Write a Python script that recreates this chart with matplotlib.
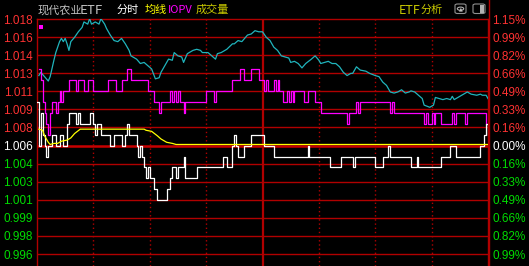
import matplotlib
matplotlib.use('Agg')
import matplotlib.pyplot as plt
from matplotlib.patches import Rectangle, FancyBboxPatch, Circle
from matplotlib.lines import Line2D

# previous close and the grid step (percent per grid line)
prev_close = 1.006
step_pct = 1.15 / 7
grid_steps = list(range(7, -7, -1))   # +7 ... -6

# price (white), minute -> price, drawn as steps
price_t = [0, 1, 2, 3, 4, 5, 6, 8, 10, 12, 14, 16, 17, 21, 22, 23, 28, 30, 31, 32,
           34, 39, 41, 45, 47, 48, 49, 53, 54, 55, 56, 57, 58, 59, 60, 62, 64, 69, 71, 72,
           74, 75, 78, 79, 85, 99, 101, 104, 105, 106, 107, 110, 114, 121, 126, 144, 145, 156, 162, 168,
           169, 180, 184, 187, 188, 199, 202, 203, 215, 220, 223, 236, 238, 239, 240]
price_v = [1.010, 1.006, 1.009, 1.007, 1.006, 1.005, 1.006, 1.007, 1.006, 1.007, 1.006, 1.008, 1.009, 1.008, 1.009, 1.008, 1.009, 1.008, 1.007, 1.008,
           1.007, 1.006, 1.007, 1.006, 1.007, 1.008, 1.007, 1.006, 1.005, 1.006, 1.005, 1.004, 1.003, 1.004, 1.003, 1.002, 1.001, 1.002, 1.003, 1.004,
           1.003, 1.004, 1.005, 1.003, 1.004, 1.005, 1.004, 1.006, 1.007, 1.006, 1.005, 1.006, 1.007, 1.006, 1.005, 1.006, 1.005, 1.004, 1.005, 1.004,
           1.005, 1.004, 1.005, 1.006, 1.005, 1.004, 1.005, 1.004, 1.005, 1.006, 1.005, 1.006, 1.007, 1.008, 1.007]

# average price (yellow)
avg_t = [1, 3, 4, 6, 7, 9, 11, 13, 16, 18, 20, 23, 57, 58, 61, 64, 66, 69, 72, 74, 240]
avg_v = [1.0075, 1.0074, 1.0069, 1.0063, 1.0061, 1.0062, 1.0062, 1.0064, 1.0065, 1.0067, 1.0071, 1.0075,
         1.0075, 1.0074, 1.0073, 1.0069, 1.0066, 1.0063, 1.0062, 1.0061, 1.0061]

# IOPV (magenta), drawn as steps
iopv_t = [1, 2, 3, 4, 5, 6, 7, 8, 10, 11, 12, 13, 14, 17, 21, 22, 25, 27, 30, 38,
          42, 45, 48, 50, 59, 62, 65, 66, 71, 72, 73, 74, 75, 76, 78, 79, 90, 94, 95, 104,
          108, 110, 114, 118, 121, 122, 123, 126, 127, 128, 129, 131, 133, 134, 135, 136, 137, 142, 144, 148,
          151, 165, 166, 170, 171, 172, 188, 189, 190, 206, 207, 208, 210, 211, 212, 215, 221, 222, 223, 228,
          229, 239, 240]
iopv_v = [1.013, 1.012, 1.010, 1.009, 1.008, 1.007, 1.009, 1.010, 1.009, 1.010, 1.011, 1.010, 1.011, 1.012, 1.011, 1.012, 1.011, 1.012, 1.011, 1.012,
          1.011, 1.012, 1.013, 1.012, 1.011, 1.010, 1.009, 1.010, 1.011, 1.010, 1.011, 1.010, 1.011, 1.010, 1.009, 1.010, 1.011, 1.010, 1.011, 1.012,
          1.013, 1.012, 1.013, 1.012, 1.011, 1.012, 1.011, 1.012, 1.011, 1.012, 1.011, 1.010, 1.011, 1.010, 1.011, 1.010, 1.011, 1.010, 1.011, 1.010,
          1.009, 1.008, 1.009, 1.010, 1.009, 1.010, 1.009, 1.010, 1.009, 1.008, 1.009, 1.008, 1.009, 1.008, 1.009, 1.008, 1.009, 1.008, 1.009, 1.008,
          1.009, 1.008, 1.008]

# reference line (cyan)
ref_t = [1, 2, 4, 6, 7, 9, 10, 12, 13, 14, 15, 16, 17, 18, 20, 22, 24, 25, 27, 28,
         29, 31, 33, 34, 36, 37, 39, 41, 43, 45, 47, 49, 50, 53, 55, 57, 59, 61, 63, 65,
         66, 68, 70, 72, 73, 75, 77, 78, 80, 81, 83, 85, 87, 88, 91, 93, 95, 96, 98, 101,
         104, 105, 107, 109, 111, 112, 114, 116, 118, 120, 122, 124, 126, 128, 130, 132, 134, 135, 137, 139,
         141, 143, 146, 148, 150, 151, 153, 155, 157, 159, 161, 163, 165, 167, 168, 170, 172, 175, 177, 180,
         182, 184, 186, 188, 190, 192, 194, 196, 198, 199, 201, 203, 205, 206, 209, 211, 212, 214, 216, 218,
         220, 221, 222, 224, 227, 229, 231, 234, 236, 237, 239, 240]
ref_v = [1.0124, 1.0127, 1.0123, 1.0119, 1.0123, 1.0138, 1.0145, 1.0155, 1.0158, 1.0155, 1.0158, 1.0153, 1.0147, 1.0155, 1.0159, 1.0164, 1.0168, 1.0173, 1.0171, 1.0176,
         1.0171, 1.0173, 1.0171, 1.0176, 1.0171, 1.0167, 1.0161, 1.0156, 1.0155, 1.0158, 1.0153, 1.0147, 1.0142, 1.0139, 1.0135, 1.0136, 1.0133, 1.0130, 1.0121, 1.0122,
         1.0127, 1.0133, 1.0139, 1.0138, 1.0145, 1.0142, 1.0141, 1.0136, 1.0144, 1.0145, 1.0147, 1.0148, 1.0147, 1.0145, 1.0145, 1.0142, 1.0139, 1.0144, 1.0145, 1.0148,
         1.0153, 1.0153, 1.0156, 1.0155, 1.0159, 1.0161, 1.0162, 1.0165, 1.0164, 1.0164, 1.0159, 1.0156, 1.0150, 1.0147, 1.0142, 1.0141, 1.0140, 1.0136, 1.0137, 1.0135,
         1.0131, 1.0135, 1.0139, 1.0142, 1.0138, 1.0135, 1.0136, 1.0137, 1.0135, 1.0135, 1.0132, 1.0127, 1.0124, 1.0126, 1.0126, 1.0132, 1.0129, 1.0128, 1.0126, 1.0124,
         1.0123, 1.0118, 1.0115, 1.0109, 1.0108, 1.0109, 1.0111, 1.0108, 1.0109, 1.0110, 1.0109, 1.0106, 1.0103, 1.0097, 1.0095, 1.0097, 1.0104, 1.0103, 1.0102, 1.0103,
         1.0102, 1.0105, 1.0102, 1.0104, 1.0107, 1.0109, 1.0107, 1.0106, 1.0107, 1.0106, 1.0106, 1.0103]

# half-hour marks
dotted_t = [30, 60, 90, 150, 180, 210]
mid_t = 120

RED = '#b00000'
W, H = 529, 266
fig = plt.figure(figsize=(W / 100, H / 100), dpi=100, facecolor='black')
ax = fig.add_axes([37 / W, 0, 451 / W, 247 / H], facecolor='black')

levels = [prev_close * (1 + k * step_pct / 100) for k in grid_steps]
top = levels[0]
bottom = prev_close * (1 - 6.66 * step_pct / 100)
ax.set_xlim(0, 240)
ax.set_ylim(bottom, top)

for k, lv in zip(grid_steps, levels):
    if k == 0:
        ax.axhline(lv, color='#c80000', lw=1.8, zorder=1)
    elif k != 7:
        ax.axhline(lv, color=RED, lw=1, zorder=1)
for t in dotted_t:
    ax.axvline(t, color=RED, lw=1, ls=(0, (1, 2)), zorder=1)
ax.axvline(mid_t, color=RED, lw=1.6, zorder=1)

ax.plot(ref_t, ref_v, color='#20b4bc', lw=0.9, zorder=3)
ax.plot(iopv_t, iopv_v, color='#ff00ff', lw=0.9, drawstyle='steps-post', zorder=3)
ax.plot(price_t, price_v, color='white', lw=0.9, drawstyle='steps-post', zorder=4)
ax.plot(avg_t, avg_v, color='#ffff00', lw=0.9, zorder=5)

for s in ['left', 'top', 'right']:
    ax.spines[s].set_color(RED)
    ax.spines[s].set_linewidth(1)
ax.spines['bottom'].set_visible(False)
ax.set_xticks([])

def lab_color(k):
    if k > 0:
        return '#ff3232'
    if k < 0:
        return '#00dc00'
    return 'white'

ax.set_yticks(levels)
ax.set_yticklabels([f'{v:.3f}' for v in levels], fontsize=8.5, family='Liberation Sans')
ax.tick_params(axis='y', length=0, pad=3)
for k, lab in zip(grid_steps, ax.get_yticklabels()):
    lab.set_color(lab_color(k))

ax2 = ax.twinx()
ax2.set_ylim(bottom, top)
ax2.set_yticks(levels)
ax2.set_yticklabels([f'{abs(k * step_pct):.2f}%' for k in grid_steps], fontsize=8.5, family='Liberation Sans')
ax2.tick_params(axis='y', length=0, pad=3)
for k, lab in zip(grid_steps, ax2.get_yticklabels()):
    lab.set_color(lab_color(k))
for s in ax2.spines.values():
    s.set_visible(False)

# header
cjk = ['Noto Sans CJK SC', 'DejaVu Sans']
def head(x, txt, col, size=8):
    fig.text(x / W, 1 - 10 / H, txt, color=col, fontsize=size, family=cjk, va='center', ha='left')

head(38, '现代农业', '#c0c0c0')
head(80, 'ETF', '#c0c0c0', 9.5)
head(117, '分时', 'white')
head(145, '均线', '#ffff00')
head(168, 'IOPV', '#ff00ff')
head(196, '成交量', '#c8c800')
head(399, 'ETF', '#c8c800', 9)
head(421, '分析', '#c8c800')

# right border runs up to the top
fig.add_artist(Line2D([488.5 / W] * 2, [0, 1], color=RED, lw=1))

# small icons
fig.add_artist(FancyBboxPatch((455 / W, 1 - 13.5 / H), 11 / W, 9.5 / H,
                              boxstyle='round,pad=0,rounding_size=0.005',
                              fc='none', ec='#909090', lw=0.8))
fig.add_artist(Circle((460.5 / W, 1 - 8.7 / H), 3.2 / W, fc='none', ec='#b0b0b0', lw=0.8))
fig.text(460.5 / W, 1 - 8.7 / H, '▲', color='#c0c0c0', fontsize=3.5, ha='center', va='center')
fig.add_artist(FancyBboxPatch((473 / W, 1 - 13.5 / H), 12 / W, 9.5 / H,
                              boxstyle='round,pad=0,rounding_size=0.005',
                              fc='none', ec='#909090', lw=0.8))
fig.add_artist(Rectangle((479.5 / W, 1 - 12.5 / H), 4.5 / W, 7.5 / H, fc='#b0b0b0', ec='none'))

# magenta marker at top left of plot
fig.add_artist(Rectangle((39 / W, 1 - 29 / H), 3.5 / W, 3.5 / H, fc='#ff00ff', ec='none'))

fig.savefig('out.png', dpi=100, facecolor='black')
